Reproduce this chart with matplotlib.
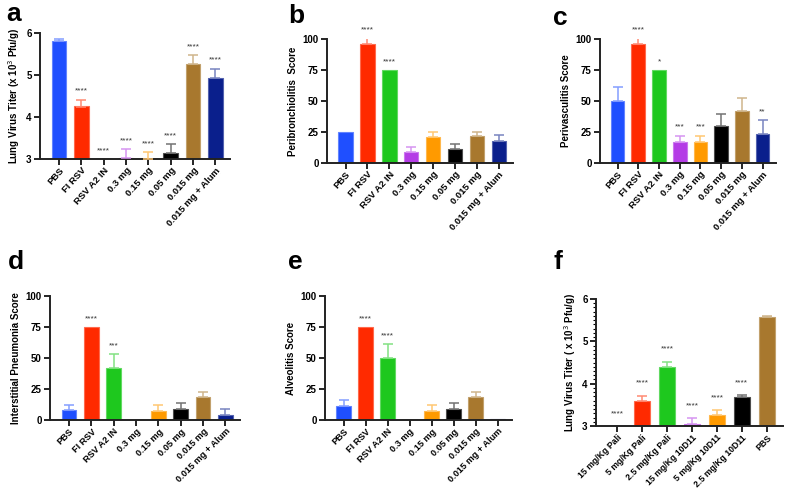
import matplotlib
matplotlib.use('Agg')
import matplotlib.pyplot as plt
import matplotlib.colors as mcolors
import numpy as np

plt.rcParams['font.family'] = ['Liberation Sans', 'DejaVu Sans']

groups = ['PBS', 'FI RSV', 'RSV A2 IN', '0.3 mg', '0.15 mg', '0.05 mg',
          '0.015 mg', '0.015 mg + Alum']
group_colors = ['#1f4fff', '#ff2a00', '#1ec81e', '#b43ce6', '#ff9a00',
                '#000000', '#a8782e', '#0a1f8c']

# panel a - lung virus titer
titer_a = [5.8, 4.25, 3.0, 3.03, 3.0, 3.15, 5.27, 4.92]
titer_a_err = [0.05, 0.16, 0.0, 0.2, 0.16, 0.2, 0.2, 0.23]
titer_a_sig = ['', '****', '****', '****', '****', '****', '****', '****']

# panel b - peribronchiolitis
peri_b = [25, 96, 75, 9, 21, 11.5, 21.5, 18]
peri_b_err = [0, 4.5, 0, 4, 4, 4, 3.5, 4.5]
peri_b_sig = ['', '****', '****', '', '', '', '', '']

# panel c - perivasculitis
peri_c = [50, 96, 75, 17, 17, 30, 42, 23.5]
peri_c_err = [11, 4.5, 0, 5, 5, 9.5, 10.5, 11]
peri_c_sig = ['', '****', '*', '***', '***', '', '', '**']

# panel d - interstitial pneumonia
pneu_d = [8, 75, 42, 0, 7, 9, 18.5, 4]
pneu_d_err = [4, 0, 11, 0, 5, 5, 4, 4.5]
pneu_d_sig = ['', '****', '***', '', '', '', '', '']

# panel e - alveolitis
alv_e = [11.5, 75, 50, 0, 7, 9, 18.5, 0.5]
alv_e_err = [4.5, 0, 11, 0, 5, 5, 4, 0]
alv_e_sig = ['', '****', '****', '', '', '', '', '']

# panel f - antibody prophylaxis
groups_f = ['15 mg/Kg Pali', '5 mg/Kg Pali', '2.5 mg/Kg Pali', '15 mg/Kg 10D11',
            '5 mg/Kg 10D11', '2.5 mg/Kg 10D11', 'PBS']
colors_f = ['#1f4fff', '#ff2a00', '#1ec81e', '#b43ce6', '#ff9a00', '#000000', '#a8782e']
titer_f = [3.0, 3.6, 4.4, 3.05, 3.27, 3.68, 5.57]
titer_f_err = [0.0, 0.12, 0.12, 0.13, 0.1, 0.05, 0.04]
titer_f_sig = ['****', '****', '****', '****', '****', '****', '']

W, H = 788, 488
fig = plt.figure(figsize=(W / 100, H / 100), dpi=100)


def px_axes(x0, x1, ytop, ybot):
    return fig.add_axes([x0 / W, 1 - ybot / H, (x1 - x0) / W, (ybot - ytop) / H])


def lighten(c, amt=0.45):
    r, g, b = mcolors.to_rgb(c)
    return (r + (1 - r) * amt, g + (1 - g) * amt, b + (1 - b) * amt)


def bar_panel(ax, labels, vals, errs, sig, colors, ylabel, ylim, yticks, base=0,
              star_pad=0.04, xfs=6.8, rot=45):
    x = np.arange(len(vals))
    heights = [v - base for v in vals]
    ax.bar(x, heights, bottom=base, width=0.66, color=colors,
           edgecolor=[lighten(c, 0.3) for c in colors], linewidth=0.8, zorder=2)
    for i in range(len(vals)):
        if errs[i] > 0:
            ax.errorbar(x[i], vals[i], yerr=[[0], [errs[i]]], fmt='none',
                        ecolor=lighten(colors[i]), elinewidth=1.1, capsize=3.5,
                        capthick=1.1, zorder=3)
        if sig[i]:
            span = ylim[1] - ylim[0]
            ax.text(x[i], vals[i] + errs[i] + span * star_pad, sig[i],
                    ha='center', va='bottom', fontsize=6, color='#333333')
    ax.set_xlim(-0.85, len(vals) - 0.35)
    ax.set_ylim(*ylim)
    ax.set_yticks(yticks)
    ax.set_xticks(x)
    ax.set_xticklabels(labels, rotation=rot, ha='right', rotation_mode='anchor',
                       fontsize=xfs, fontweight='bold')
    for t in ax.get_yticklabels():
        t.set_fontweight('bold')
        t.set_fontsize(7)
    ax.set_ylabel(ylabel, fontsize=7, fontweight='bold', labelpad=3)
    for s in ['top', 'right']:
        ax.spines[s].set_visible(False)
    for s in ['left', 'bottom']:
        ax.spines[s].set_linewidth(1.4)
        ax.spines[s].set_color('#222222')
    ax.tick_params(axis='y', width=1.2, length=4, pad=2)
    ax.tick_params(axis='x', width=1.2, length=4, pad=1)


ax_a = px_axes(40, 230, 33, 159)
bar_panel(ax_a, groups, titer_a, titer_a_err, titer_a_sig, group_colors,
          'Lung Virus Titer (x 10$^3$ Pfu/g)', (3, 6), [3, 4, 5, 6], base=3,
          rot=48)

ax_b = px_axes(327, 513, 39, 163)
bar_panel(ax_b, groups, peri_b, peri_b_err, peri_b_sig, group_colors,
          'Peribronchiolitis  Score', (0, 100), [0, 25, 50, 75, 100], rot=48)

ax_c = px_axes(600, 776, 39, 163)
bar_panel(ax_c, groups, peri_c, peri_c_err, peri_c_sig, group_colors,
          'Perivasculitis Score', (0, 100), [0, 25, 50, 75, 100], rot=48)

ax_d = px_axes(50, 240, 296, 420)
bar_panel(ax_d, groups, pneu_d, pneu_d_err, pneu_d_sig, group_colors,
          'Interstitial Pneumonia Score', (0, 100), [0, 25, 50, 75, 100],
          xfs=6.6)

ax_e = px_axes(325, 512, 296, 420)
bar_panel(ax_e, groups, alv_e, alv_e_err, alv_e_sig, group_colors,
          'Alveolitis Score', (0, 100), [0, 25, 50, 75, 100], xfs=6.6)

ax_f = px_axes(596, 783, 299, 426)
bar_panel(ax_f, groups_f, titer_f, titer_f_err, titer_f_sig, colors_f,
          'Lung Virus Titer ( x 10$^3$ Pfu/g)', (3, 6), [3, 4, 5, 6], base=3,
          star_pad=0.07, xfs=6.3)
ax_f.set_yticks(np.arange(3, 6.01, 0.1), minor=True)
ax_f.tick_params(axis='y', which='minor', length=2, width=0.8)

for lab, (x, y) in zip('abcdef', [(6, 2), (288, 4), (553, 6),
                                  (8, 250), (288, 250), (553, 250)]):
    fig.text(x / W, 1 - y / H, lab, fontsize=19, fontweight='bold', va='top')

fig.savefig('out.png', dpi=100)
